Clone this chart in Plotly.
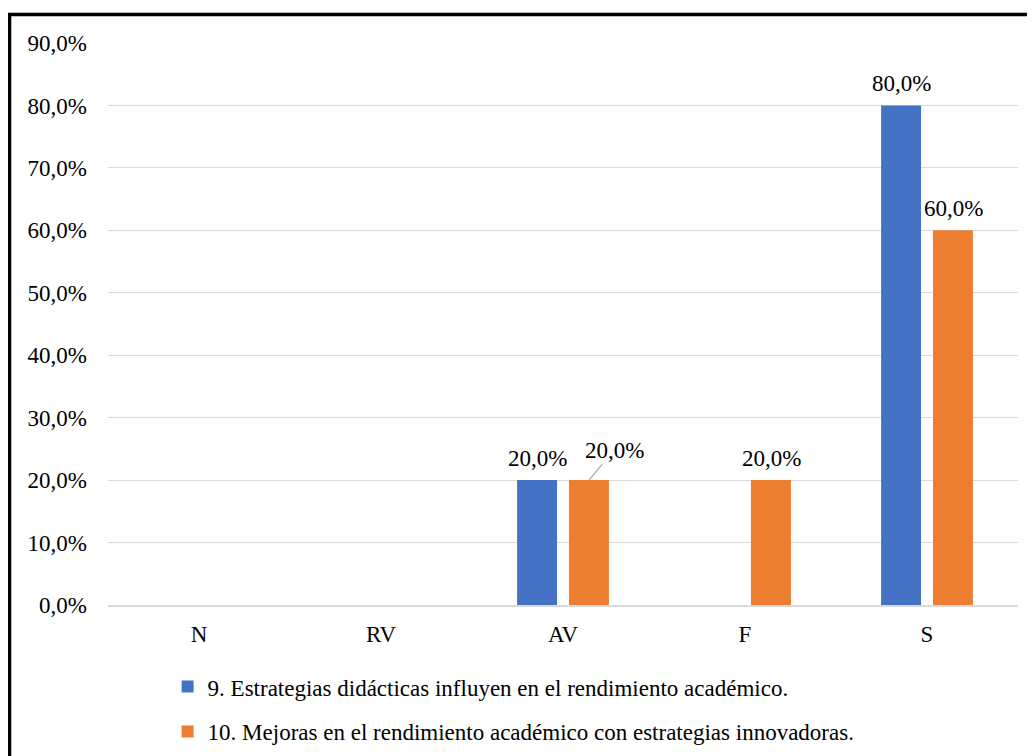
import plotly.graph_objects as go

categories = ["N", "RV", "AV", "F", "S"]
series_names = [
    "9. Estrategias didácticas influyen en el rendimiento académico.",
    "10. Mejoras en el rendimiento académico con estrategias innovadoras.",
]
series1 = [0.0, 0.0, 20.0, 0.0, 80.0]
series2 = [0.0, 0.0, 20.0, 20.0, 60.0]
colors = ["#4472C4", "#ED7D31"]
y_ticks = [0, 10, 20, 30, 40, 50, 60, 70, 80, 90]

FONT = "Liberation Serif, Times New Roman, serif"
FS = 23

def fmt(v):
    return f"{v:.1f}%".replace(".", ",")

fig = go.Figure()
for i, (name, vals) in enumerate(zip(series_names, [series1, series2])):
    fig.add_trace(go.Bar(
        x=categories, y=vals, name=name, marker_color=colors[i],
        marker_line_width=0, legendgroup=f"g{i}", offsetgroup=str(i),
    ))

annotations = []
for ti, vals in enumerate([series1, series2]):
    for ci, v in enumerate(vals):
        if v <= 0:
            continue
        xshift = -26 if ti == 0 else 26
        if ti == 1 and categories[ci] == "AV":
            annotations.append(dict(
                x=categories[ci], y=v, xref="x", yref="y", text=fmt(v),
                showarrow=True, arrowhead=0, arrowwidth=1.3, arrowcolor="#A6A6A6",
                ax=25, ay=-30, xshift=xshift, standoff=0,
                font=dict(family=FONT, size=FS, color="#000000"),
            ))
        else:
            annotations.append(dict(
                x=categories[ci], y=v, xref="x", yref="y", text=fmt(v),
                showarrow=False, xshift=xshift, yshift=22, yanchor="middle",
                font=dict(family=FONT, size=FS, color="#000000"),
            ))

fig.update_layout(
    width=1035, height=756,
    margin=dict(l=100, r=25, t=35, b=158),
    paper_bgcolor="white", plot_bgcolor="white",
    font=dict(family=FONT, size=FS, color="#000000"),
    separators=",.",
    barmode="group", bargap=0.43, bargroupgap=0.23,
    showlegend=True,
    legend=dict(
        orientation="v", x=0.0655, xanchor="left", y=-0.105, yanchor="top",
        font=dict(family=FONT, size=FS, color="#000000"),
        tracegroupgap=12, bgcolor="rgba(0,0,0,0)",
    ),
    annotations=annotations,
    shapes=[dict(
        type="rect", xref="paper", yref="paper",
        x0=-0.1082, x1=1.1, y0=1.0506, y1=-0.4,
        line=dict(color="black", width=3.5), layer="above",
    )],
)
fig.update_xaxes(
    showgrid=False, showline=True, linecolor="#D9D9D9", linewidth=1.5,
    ticks="", ticklabelstandoff=8,
    tickfont=dict(family=FONT, size=FS, color="#000000"),
)
fig.update_yaxes(
    range=[0, 90], tickvals=y_ticks, ticktext=[fmt(t) for t in y_ticks],
    showgrid=True, gridcolor="#D9D9D9", gridwidth=1.3, zeroline=False,
    showline=False, ticks="", ticklabelstandoff=20,
    tickfont=dict(family=FONT, size=FS, color="#000000"),
)

fig.write_html("out.html")
